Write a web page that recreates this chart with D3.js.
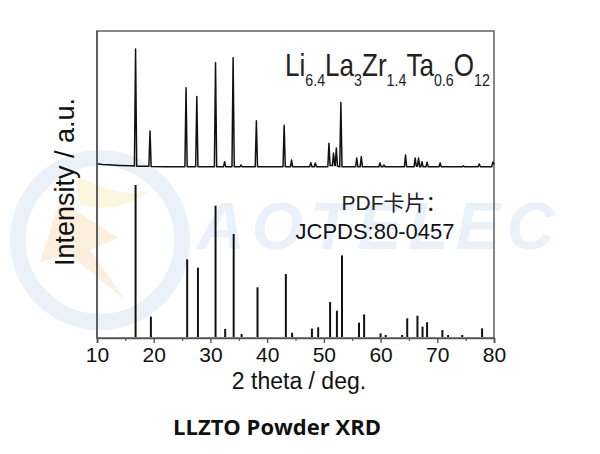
<!DOCTYPE html>
<html><head><meta charset="utf-8">
<script src="https://cdn.jsdelivr.net/npm/d3@7/dist/d3.min.js"></script>
<style>html,body{margin:0;padding:0;background:#fff;}svg{display:block;}</style>
</head><body>
<svg id="c" width="600" height="454"></svg>
<script>
// ---- data ----
const xTicks = [10, 20, 30, 40, 50, 60, 70, 80];
const xMinorTicks = [15, 25, 35, 45, 55, 65, 75];
// measured pattern (2θ, relative intensity)
const measuredTheta = [10,11,12,14,16,16.6,16.8,17.0,19.15,19.35,19.55,22,25.5,25.7,25.9,27.4,27.6,27.8,30.7,30.9,31.1,32.3,32.5,32.7,33.8,34.0,34.2,35.2,35.4,35.6,37.9,38.1,38.3,42.8,43.0,43.2,44.1,44.3,44.5,47.5,47.7,47.9,48.3,48.5,48.7,50.7,50.9,51.1,51.5,51.7,51.9,52.0,52.2,52.4,52.8,53.0,53.2,55.6,55.8,56.0,56.4,56.6,56.8,59.7,59.9,60.1,60.4,60.6,60.8,64.2,64.4,64.6,65.9,66.1,66.3,66.5,66.7,66.9,67.1,67.3,67.5,68.0,68.2,68.4,70.3,70.5,70.7,74.4,74.6,74.8,77.2,77.4,77.6,79.6,79.8,80];
const measuredI = [3.5,3,2.8,2.2,1.8,1.6,100,1.5,1.4,31,1.3,1.0,1.0,67.5,1.0,1.0,60,1.0,1.0,88.5,1.0,1.0,5.3,1.0,1.0,92.7,1.0,1.0,2.5,1.0,1.0,39.7,1.0,1.0,36,1.0,1.0,6.7,1.0,1.0,4.5,1.0,1.0,4.2,1.0,1.0,20.8,2,2,12.6,2,2,16.8,1.5,1.0,55,1.0,1.0,8.4,1.0,1.0,9.5,1.0,1.0,4.2,1.0,1.0,2.5,1.0,1,10.9,1,1,8.4,1.5,1.5,8.4,1,1,5.3,1,1,4.8,1,1,4.2,1,1,1.7,1,1,3.4,1,1,5,3];
// reference card JCPDS 80-0457 (2θ, relative intensity)
const refTheta = [16.8,19.5,25.9,27.8,30.9,32.6,34.1,35.5,38.3,43.3,44.4,47.9,49.0,51.1,52.3,53.2,56.2,57.1,60.0,60.9,63.8,64.7,66.5,67.4,68.2,70.9,71.9,74.4,77.9];
const refI     = [100,13.4,51.1,45.6,86.4,5.3,67.8,2,32.7,41.4,2.8,5.5,6.4,23,17.3,53.7,9.4,14.9,2.4,1.3,1.3,12.3,14,6.8,9.7,4.6,1.3,1.3,5.7];

const svg = d3.select('#c');
const L = 97, R = 494, T = 31, B = 338;
const ff = 'Liberation Sans, Arial, sans-serif';

// ---- watermark (faint logo) ----
const wm = svg.append('g').attr('opacity', 0.55);
wm.append('circle').attr('cx', 100).attr('cy', 240).attr('r', 82)
  .attr('fill', 'none').attr('stroke', '#dbe6f5').attr('stroke-width', 16);
wm.append('path').attr('d', 'M60,200 L118,238 L90,250 L125,300 L70,255 L40,262 Z')
  .attr('fill', '#fbe3c4');
wm.append('path').attr('d', 'M75,175 Q120,200 150,190 Q120,215 80,205 Z')
  .attr('fill', '#fcefc6');
wm.append('text').attr('x', 197).attr('y', 249)
  .attr('font-family', ff).attr('font-weight', 700)
  .attr('font-style', 'italic').attr('font-size', 66).attr('letter-spacing', 7)
  .attr('fill', '#dae6f7').text('AOTELEC');

// ---- scales ----
const x = d3.scaleLinear().domain([10, 80]).range([L, R]);
const yTop = d3.scaleLinear().domain([0, 100]).range([168, 49]);
const yRef = d3.scaleLinear().domain([0, 100]).range([B - 1, 185]);

// frame
svg.append('rect').attr('x', L).attr('y', T).attr('width', R - L).attr('height', B - T)
  .attr('fill', 'none').attr('stroke', '#6a6a6a').attr('stroke-width', 1.6);

// measured trace
const pts = measuredTheta.map((t, i) => [t, measuredI[i]]);
svg.append('path').datum(pts)
  .attr('d', d3.line().x(d => x(d[0])).y(d => yTop(d[1])))
  .attr('fill', 'none').attr('stroke', '#111').attr('stroke-width', 1.5)
  .attr('stroke-linejoin', 'round');

// reference sticks
svg.append('g').selectAll('line').data(refTheta).join('line')
  .attr('x1', d => x(d)).attr('x2', d => x(d))
  .attr('y1', yRef(0)).attr('y2', (d, i) => yRef(refI[i]))
  .attr('stroke', '#111').attr('stroke-width', 2);

// x axis
const ax = svg.append('g').attr('transform', `translate(0,${B})`)
  .call(d3.axisBottom(x).tickValues(xTicks).tickSize(5).tickPadding(4).tickFormat(d3.format('d')));
ax.select('.domain').attr('stroke', '#555').attr('stroke-width', 1.6);
ax.selectAll('.tick line').attr('stroke', '#555').attr('stroke-width', 1.4);
ax.selectAll('text').attr('font-family', ff).attr('font-size', 21).attr('fill', '#111');
svg.append('g').attr('transform', `translate(0,${B})`)
  .call(d3.axisBottom(x).tickValues(xMinorTicks).tickSize(3).tickFormat(''))
  .call(g => g.select('.domain').remove())
  .selectAll('.tick line').attr('stroke', '#555').attr('stroke-width', 1.2);

// left axis line
svg.append('line').attr('x1', L).attr('x2', L).attr('y1', T).attr('y2', B)
  .attr('stroke', '#555').attr('stroke-width', 1.6);

// axis titles
svg.append('text').attr('x', 299).attr('y', 389).attr('text-anchor', 'middle')
  .attr('font-family', ff).attr('font-size', 23).attr('fill', '#111').text('2 theta / deg.');
svg.append('text').attr('transform', 'translate(74,182) rotate(-90)').attr('text-anchor', 'middle')
  .attr('font-family', ff).attr('font-size', 27).attr('fill', '#111').text('Intensity / a.u.');

// formula label
const fg = svg.append('g').attr('transform', 'translate(285,76) scale(0.84,1)');
const ft = fg.append('text').attr('font-family', ff).attr('font-size', 31).attr('fill', '#222');
const parts = [['Li', 0], ['6.4', 1], ['La', 0], ['3', 1], ['Zr', 0], ['1.4', 1], ['Ta', 0], ['0.6', 1], ['O', 0], ['12', 1]];
parts.forEach((p, i) => {
  const prevSub = i > 0 && parts[i - 1][1];
  const ts = ft.append('tspan').text(p[0]);
  if (p[1]) ts.attr('font-size', 17).attr('dy', 10);
  else ts.attr('dy', prevSub ? -10 : 0);
});

svg.append('text').attr('x', 394).attr('y', 210).attr('text-anchor', 'middle')
  .attr('font-family', 'Liberation Sans, Noto Sans CJK SC, sans-serif').attr('font-size', 21)
  .attr('fill', '#222').text('PDF卡片：');
svg.append('text').attr('x', 375).attr('y', 239).attr('text-anchor', 'middle')
  .attr('font-family', ff).attr('font-size', 22).attr('fill', '#111').text('JCPDS:80-0457');

// caption
svg.append('text').attr('x', 277).attr('y', 435).attr('text-anchor', 'middle')
  .attr('font-family', 'Open Sans, Noto Sans, sans-serif').attr('font-weight', 700)
  .attr('font-size', 22).attr('fill', '#111').text('LLZTO Powder XRD');
</script>
</body></html>
